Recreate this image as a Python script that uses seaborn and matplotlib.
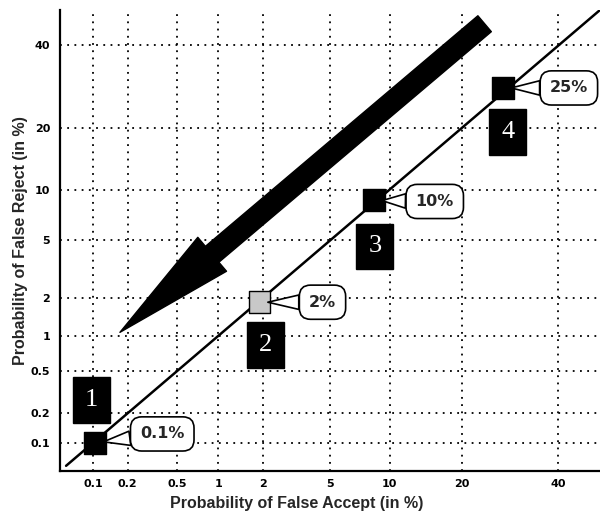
import numpy as np
import pandas as pd
import matplotlib
matplotlib.use("Agg")
import matplotlib.pyplot as plt
import seaborn as sns
from statistics import NormalDist

# axis ticks (percent)
tick_values = [0.1, 0.2, 0.5, 1, 2, 5, 10, 20, 40]
tick_labels = ["0.1", "0.2", "0.5", "1", "2", "5", "10", "20", "40"]
axis_range = [0.05, 50]

# equal error rate diagonal
diag_fa = [0.057, 50]
diag_fr = [0.057, 50]

# operating points
point_ids = ["1", "2", "3", "4"]
false_accept = [0.105, 1.9, 8.4, 27.7]
false_reject = [0.1, 1.85, 8.7, 28.9]
eer_labels = ["0.1%", "2%", "10%", "25%"]
point_colors = ["black", "#c8c8c8", "black", "black"]

# big arrow (tail -> head), percent
arrow_tail = (24.1, 46.1)
arrow_head = (0.172, 1.07)

# offsets (pixels) of the number boxes and the callouts from each point
box_offsets = [(-4, 43), (6, -43), (1, -46), (5, -44)]
callout_offsets = [(67, 9), (63, 0), (61, -1), (66, 0)]

_nd = NormalDist()


def to_probit(p):
    p = np.clip(np.asarray(p, dtype=float) / 100.0, 1e-9, 1 - 1e-9)
    return np.vectorize(_nd.inv_cdf, otypes=[float])(p)


def from_probit(z):
    return np.vectorize(_nd.cdf, otypes=[float])(np.asarray(z, dtype=float)) * 100.0


sns.set_style("white")

fig = plt.figure(figsize=(6, 5.14), dpi=100)
ax = fig.add_axes([0.1, 43 / 514, 0.9, 461 / 514])

diag = pd.DataFrame({"fa": diag_fa, "fr": diag_fr})
pts = pd.DataFrame({"id": point_ids, "fa": false_accept, "fr": false_reject})

sns.lineplot(data=diag, x="fa", y="fr", color="black", linewidth=1.8, ax=ax, zorder=3)
sns.scatterplot(data=pts, x="fa", y="fr", hue="id", palette=point_colors, marker="s",
                s=250, edgecolor="black", linewidth=1.0, legend=False, ax=ax, zorder=4)

ax.set_xscale("function", functions=(to_probit, from_probit))
ax.set_yscale("function", functions=(to_probit, from_probit))
ax.set_xlim(axis_range)
ax.set_ylim(axis_range)

ax.set_xticks(tick_values, labels=tick_labels, fontsize=8, fontweight="bold", family="DejaVu Sans")
ax.set_yticks(tick_values, labels=tick_labels, fontsize=8, fontweight="bold", family="DejaVu Sans")
ax.tick_params(direction="in", length=5, width=1.3, colors="black")
ax.tick_params(axis="x", pad=6)
ax.tick_params(axis="y", pad=7)

ax.grid(True, color="black", linestyle=(0, (1, 3)), linewidth=1.3)
ax.set_axisbelow(True)
sns.despine(ax=ax)
for side in ["left", "bottom"]:
    ax.spines[side].set_color("black")
    ax.spines[side].set_linewidth(1.6)

ax.set_xlabel("Probability of False Accept (in %)", fontsize=11.5, fontweight="bold",
              family="Liberation Sans")
ax.set_ylabel("Probability of False Reject (in %)", fontsize=11.5, fontweight="bold",
              family="Liberation Sans")
ax.xaxis.set_label_coords(0.439, -0.054)
ax.yaxis.set_label_coords(-0.06, 0.5)

# big arrow pointing toward better performance
ax.annotate("", xy=arrow_head, xytext=arrow_tail,
            arrowprops=dict(arrowstyle="simple,head_length=8.7,head_width=3.2,tail_width=1.5",
                            fc="black", ec="black", shrinkA=0, shrinkB=0, mutation_scale=10),
            zorder=5)

for pid, x, y, (dx, dy) in zip(point_ids, false_accept, false_reject, box_offsets):
    ax.annotate(pid, xy=(x, y), xytext=(dx, dy), textcoords="offset pixels",
                ha="center", va="center", color="white", fontsize=19, family="Liberation Serif",
                bbox=dict(boxstyle="square,pad=0.45", fc="black", ec="black"), zorder=5)

for lab, x, y, (dx, dy) in zip(eer_labels, false_accept, false_reject, callout_offsets):
    ax.annotate(lab, xy=(x, y), xytext=(dx, dy), textcoords="offset pixels",
                ha="center", va="center", fontsize=11.5, fontweight="bold", family="DejaVu Sans",
                bbox=dict(boxstyle="round,pad=0.6,rounding_size=0.7", fc="white", ec="black", lw=1.2),
                arrowprops=dict(arrowstyle="wedge,tail_width=0.9,shrink_factor=0.5",
                                fc="white", ec="black", lw=1.2, shrinkA=0, shrinkB=6),
                zorder=5)

fig.savefig("out.png", dpi=100)
plt.close(fig)
